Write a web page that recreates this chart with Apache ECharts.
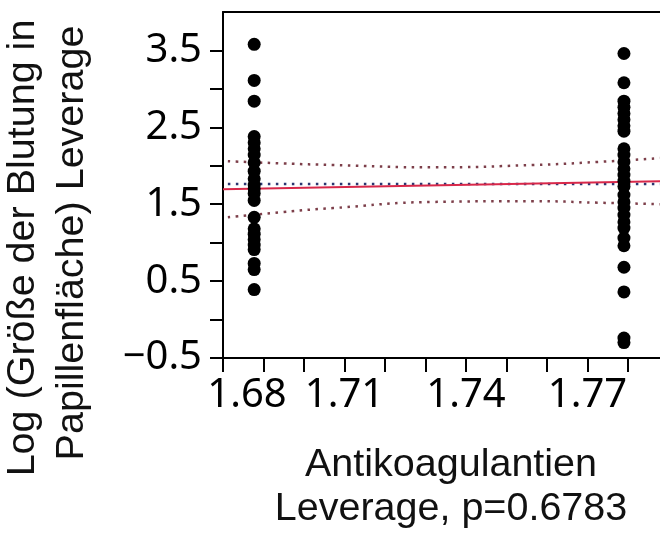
<!DOCTYPE html>
<html>
<head>
<meta charset="utf-8">
<script src="https://cdn.jsdelivr.net/npm/echarts@6/dist/echarts.min.js"></script>
<style>
  html, body { margin: 0; padding: 0; background: #fff; }
  #chart { width: 660px; height: 535px; }
</style>
</head>
<body>
<div id="chart"></div>
<script>
// Leverage positions of the two Antikoagulantien groups
const groupX = [1.6877, 1.7790];

// Log (Größe der Blutung in Papillenfläche) leverage residuals per group
const valuesLow = [3.58, 3.11, 2.84, 2.38, 2.30, 2.22, 2.14, 2.04, 1.93, 1.83, 1.75, 1.70,
  1.64, 1.55, 1.33, 1.18, 1.11, 1.04, 0.97, 0.91, 0.73, 0.65, 0.39];
const valuesHigh = [3.46, 3.08, 2.84, 2.76, 2.68, 2.60, 2.52, 2.45, 2.22, 2.14, 2.05, 1.96,
  1.88, 1.80, 1.73, 1.62, 1.53, 1.45, 1.36, 1.27, 1.19, 1.06, 0.96, 0.68, 0.36, -0.24, -0.30];

// Fitted leverage line, mean reference line and confidence curves
const fitLine = [[1.68, 1.695], [1.7879, 1.80]];
const meanLine = [[1.6812, 1.763], [1.7879, 1.763]];
const upperBand = [[1.6812, 2.06], [1.695, 2.03], [1.7072, 2.01], [1.7319, 1.98],
  [1.7565, 2.01], [1.7725, 2.05], [1.7879, 2.10]];
const lowerBand = [[1.6812, 1.33], [1.695, 1.40], [1.7072, 1.45], [1.7319, 1.53],
  [1.7565, 1.54], [1.7725, 1.52], [1.7879, 1.50]];

// Axis ticks and labels
const xTicks = [1.68, 1.69, 1.70, 1.71, 1.72, 1.73, 1.74, 1.75, 1.76, 1.77, 1.78];
const xLabels = [1.68, 1.71, 1.74, 1.77];
const yTicks = [-0.5, 0, 0.5, 1, 1.5, 2, 2.5, 3, 3.5];
const yLabels = [-0.5, 0.5, 1.5, 2.5, 3.5];

const yTitle = ['Log (Größe der Blutung in', 'Papillenfläche) Leverage'];
const xTitle = ['Antikoagulantien', 'Leverage, p=0.6783'];

const tickFont = '"Noto Sans", "Open Sans", sans-serif';
const titleFont = '"Liberation Sans", Arial, sans-serif';
const axisColor = '#000';

const chart = echarts.init(document.getElementById('chart'), null, { renderer: 'canvas' });

const dotted = (color) => ({ color: color, width: 2.5, type: [2.5, 5.5], cap: 'butt' });

chart.setOption({
  animation: false,
  backgroundColor: '#fff',
  grid: { left: 223, top: 12, right: 0, bottom: 177, containLabel: false },
  xAxis: [{
    type: 'value',
    position: 'bottom',
    min: 1.68,
    max: 1.7879,
    axisLine: { show: true, onZero: false, lineStyle: { color: axisColor, width: 2 } },
    axisTick: { show: true, length: 14, customValues: xTicks, lineStyle: { color: axisColor, width: 2 } },
    axisLabel: {
      customValues: xLabels,
      margin: 18,
      fontSize: 40,
      fontFamily: tickFont,
      color: '#000',
      formatter: (v) => {
        const s = v.toFixed(2);
        return s === '1.68' ? '{first|' + s + '}' : s;
      },
      rich: {
        first: { fontSize: 40, fontFamily: tickFont, color: '#000', padding: [0, 0, 0, 48] }
      }
    },
    splitLine: { show: false }
  }, {
    type: 'value',
    position: 'top',
    min: 1.68,
    max: 1.7879,
    axisLine: { show: true, onZero: false, lineStyle: { color: axisColor, width: 2 } },
    axisTick: { show: false },
    axisLabel: { show: false },
    splitLine: { show: false }
  }],
  yAxis: {
    type: 'value',
    min: -0.5,
    max: 4.0,
    axisLine: { show: true, onZero: false, lineStyle: { color: axisColor, width: 2 } },
    axisTick: { show: true, length: 13, customValues: yTicks, lineStyle: { color: axisColor, width: 2 } },
    axisLabel: {
      customValues: yLabels,
      margin: 21,
      fontSize: 40,
      fontFamily: tickFont,
      color: '#000',
      formatter: (v) => (v < 0 ? '\u2212' + Math.abs(v).toFixed(1) : v.toFixed(1))
    },
    splitLine: { show: false }
  },
  graphic: [
    {
      type: 'text', x: 23, y: 248, rotation: Math.PI / 2,
      style: { text: yTitle[0], fontSize: 39.5, fontFamily: titleFont, fill: '#111', align: 'center', verticalAlign: 'middle' }
    },
    {
      type: 'text', x: 72, y: 243, rotation: Math.PI / 2,
      style: { text: yTitle[1], fontSize: 39.5, fontFamily: titleFont, fill: '#111', align: 'center', verticalAlign: 'middle' }
    },
    {
      type: 'text', x: 451, y: 465,
      style: { text: xTitle[0], fontSize: 39.5, fontFamily: titleFont, fill: '#111', align: 'center', verticalAlign: 'middle' }
    },
    {
      type: 'text', x: 451, y: 509,
      style: { text: xTitle[1], fontSize: 39.5, fontFamily: titleFont, fill: '#111', align: 'center', verticalAlign: 'middle' }
    }
  ],
  series: [
    {
      type: 'line', data: upperBand, smooth: true, symbol: 'none', z: 2,
      lineStyle: dotted('#7d3f4a')
    },
    {
      type: 'line', data: lowerBand, smooth: true, symbol: 'none', z: 2,
      lineStyle: dotted('#7d3f4a')
    },
    {
      type: 'line', data: meanLine, symbol: 'none', z: 2,
      lineStyle: dotted('#2a3570')
    },
    {
      type: 'line', data: fitLine, symbol: 'none', z: 3,
      lineStyle: { color: '#d8284a', width: 2 }
    },
    {
      type: 'scatter', z: 5, symbol: 'circle', symbolSize: 13,
      itemStyle: { color: '#000', opacity: 1 },
      data: valuesLow.map((v) => [groupX[0], v])
    },
    {
      type: 'scatter', z: 5, symbol: 'circle', symbolSize: 13,
      itemStyle: { color: '#000', opacity: 1 },
      data: valuesHigh.map((v) => [groupX[1], v])
    }
  ]
});
</script>
</body>
</html>
